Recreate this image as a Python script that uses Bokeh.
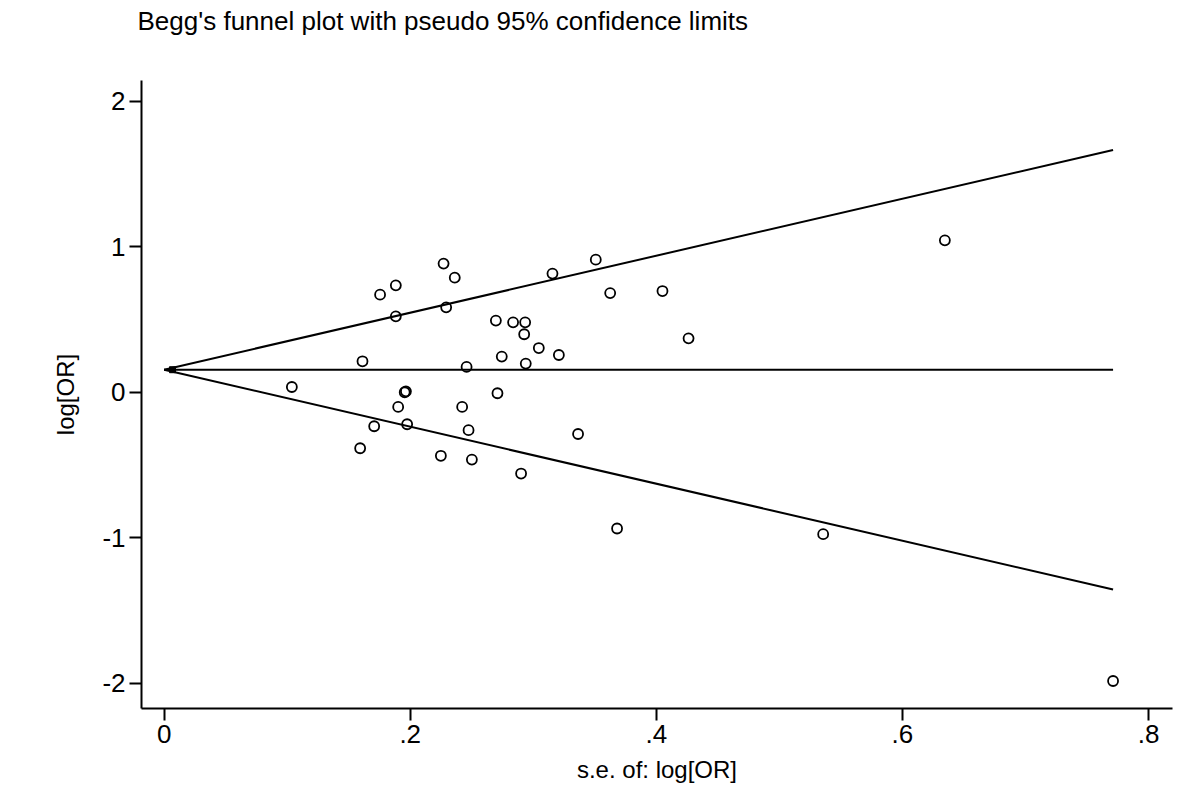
from bokeh.plotting import figure
from bokeh.models import FixedTicker, Range1d
from bokeh.embed import file_html
from bokeh.resources import INLINE

# Study data: standard error of log(OR) and log(OR)
se = [0.1038, 0.1612, 0.1593, 0.1707, 0.1755, 0.1883, 0.1883, 0.1902, 0.1955, 0.1965,
      0.1975, 0.2249, 0.2271, 0.2292, 0.2362, 0.2422, 0.2458, 0.2474, 0.2501, 0.2696,
      0.2709, 0.2744, 0.2836, 0.2901, 0.2926, 0.2934, 0.2939, 0.3045, 0.3156, 0.3208,
      0.3364, 0.3508, 0.3625, 0.3681, 0.4050, 0.4262, 0.5356, 0.6345, 0.7712]
log_or = [0.036, 0.213, -0.385, -0.234, 0.671, 0.735, 0.522, -0.101, 0.000, 0.006,
          -0.220, -0.437, 0.885, 0.584, 0.788, -0.101, 0.174, -0.261, -0.463, 0.493,
          -0.007, 0.245, 0.481, -0.559, 0.399, 0.481, 0.197, 0.304, 0.816, 0.256,
          -0.287, 0.912, 0.682, -0.937, 0.696, 0.371, -0.976, 1.045, -1.986]

# Pooled estimate and pseudo 95% limits
pooled = 0.155
funnel_se = [0.0, 0.7712]
upper = [0.155, 0.155 + 1.96 * 0.7712]
lower = [0.155, 0.155 - 1.96 * 0.7712]
center = [0.155, 0.155]
apex_se = [0.0068]
apex_val = [0.155]

x_ticks = [0, 0.2, 0.4, 0.6, 0.8]
x_tick_labels = ["0", ".2", ".4", ".6", ".8"]
y_ticks = [-2, -1, 0, 1, 2]
y_tick_labels = ["-2", "-1", "0", "1", "2"]
title_text = "Begg's funnel plot with pseudo 95% confidence limits"

FONT = "Liberation Sans Narrow, Liberation Sans, Arial Narrow, sans-serif"

p = figure(width=1192, height=792, output_backend="svg", toolbar_location=None,
           x_range=Range1d(-0.0184, 0.8195), y_range=Range1d(-2.175, 2.144),
           min_border_left=141, min_border_right=20, min_border_top=80,
           min_border_bottom=84)

# second (blank) line lifts the title towards the top edge
p.title.text = title_text + "\n "
p.title.text_font = FONT
p.title.text_font_size = "26px"
p.title.text_font_style = "normal"
p.title.text_color = "black"
p.title.text_line_height = 1.45
p.title.align = "left"
p.title.offset = -4
p.title.standoff = 2

p.outline_line_color = None
p.xgrid.visible = False
p.ygrid.visible = False
p.background_fill_color = "white"
p.border_fill_color = "white"

for ax in (p.xaxis[0], p.yaxis[0]):
    ax.axis_line_color = "black"
    ax.axis_line_width = 2
    ax.major_tick_line_color = "black"
    ax.major_tick_line_width = 2
    ax.major_tick_in = 0
    ax.major_tick_out = 12
    ax.minor_tick_line_color = None
    ax.major_label_text_font = FONT
    ax.major_label_text_font_size = "26px"
    ax.major_label_text_color = "black"
    ax.axis_label_text_font = FONT
    ax.axis_label_text_font_size = "24px"
    ax.axis_label_text_font_style = "normal"
    ax.axis_label_text_color = "black"

p.xaxis[0].ticker = FixedTicker(ticks=x_ticks)
p.xaxis[0].major_label_overrides = {t: l for t, l in zip(x_ticks, x_tick_labels)}
p.xaxis[0].major_label_standoff = 4
p.xaxis[0].axis_label = "s.e. of: log[OR]"
p.xaxis[0].axis_label_standoff = 10

p.yaxis[0].ticker = FixedTicker(ticks=y_ticks)
p.yaxis[0].major_label_overrides = {t: l for t, l in zip(y_ticks, y_tick_labels)}
p.yaxis[0].major_label_orientation = "horizontal"
p.yaxis[0].major_label_standoff = 4
p.yaxis[0].axis_label = "log[OR]"
p.yaxis[0].axis_label_standoff = 20

p.line(funnel_se, upper, line_color="black", line_width=2)
p.line(funnel_se, lower, line_color="black", line_width=2)
p.line(funnel_se, center, line_color="black", line_width=2)
p.scatter(apex_se, apex_val, marker="square", size=6, fill_color="black", line_color="black")

p.scatter(se, log_or, marker="circle", size=10, fill_color=None,
          line_color="black", line_width=1.8)

open("out.html", "w").write(file_html(p, INLINE))
